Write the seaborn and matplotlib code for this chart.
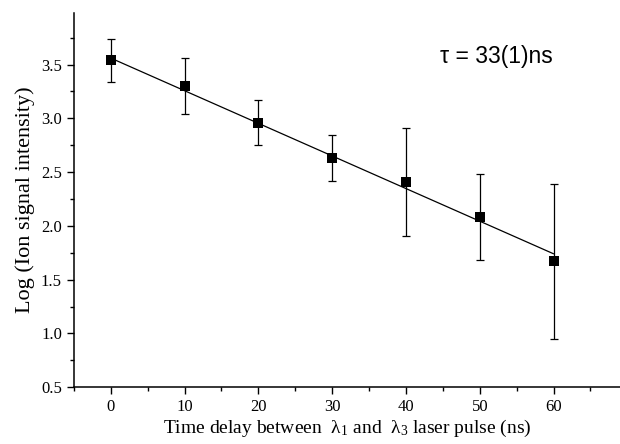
import matplotlib
matplotlib.use("Agg")
import matplotlib.pyplot as plt
import numpy             as np
import pandas            as pd
import seaborn           as sns
from matplotlib.ticker import MultipleLocator

# Data
delay   = [0, 10, 20, 30, 40, 50, 60]
log_sig = [3.54, 3.30, 2.96, 2.63, 2.41, 2.08, 1.67]
err     = [0.20, 0.26, 0.21, 0.21, 0.50, 0.40, 0.72]

fit_x   = [0, 60]
fit_y   = [3.56, 1.74]

df  = pd.DataFrame({'delay': delay, 'log_sig': log_sig, 'err': err})
fit = pd.DataFrame({'delay': fit_x, 'log_sig': fit_y})

sns.set_style('ticks', {'text.color': 'black', 'xtick.color': 'black', 'ytick.color': 'black',
                        'axes.edgecolor': 'black', 'axes.labelcolor': 'black'})
plt.rcParams['font.family'] = ['Liberation Serif', 'DejaVu Serif']
plt.rcParams['mathtext.fontset'] = 'custom'
plt.rcParams['mathtext.rm'] = 'Liberation Serif'

fig = plt.figure(figsize = (6.2, 4.44), dpi = 100)
ax  = fig.add_axes([0.119, 0.128, 0.881, 0.843])

sns.lineplot(data = fit, x = 'delay', y = 'log_sig', ax = ax, color = 'black', linewidth = 0.9)
ax.errorbar(df['delay'], df['log_sig'], yerr = df['err'], fmt = 'none',
            ecolor = 'black', elinewidth = 0.9, capsize = 3, capthick = 0.9)
sns.scatterplot(data = df, x = 'delay', y = 'log_sig', ax = ax, marker = 's',
                color = 'black', s = 55, edgecolor = 'black', linewidth = 0, zorder = 5)

ax.set_xlim(-5, 69)
ax.set_ylim(0.5, 3.98)
ax.xaxis.set_major_locator(MultipleLocator(10))
ax.xaxis.set_minor_locator(MultipleLocator(5))
ax.yaxis.set_major_locator(MultipleLocator(0.5))
ax.yaxis.set_minor_locator(MultipleLocator(0.25))
ax.tick_params(which = 'major', direction = 'out', length = 5, width = 1, labelsize = 12, colors = 'black')
ax.tick_params(which = 'minor', direction = 'out', length = 3, width = 1, colors = 'black')

for side in ['top', 'right']:
    ax.spines[side].set_visible(False)
for side in ['left', 'bottom']:
    ax.spines[side].set_linewidth(1.1)
    ax.spines[side].set_color('black')

ax.set_xlabel(r'Time delay between  $\mathregular{\lambda_1}$ and  $\mathregular{\lambda_3}$ laser pulse (ns)',
              fontsize = 14, labelpad = 2, color = 'black')
ax.set_ylabel('Log (Ion signal intensity)', fontsize = 16, labelpad = 4, color = 'black')

ax.text(0.670, 0.866, 'τ = 33(1)ns', transform = ax.transAxes, fontsize = 16.5,
        va = 'baseline', color = 'black', family = ['Liberation Sans', 'DejaVu Sans'])

plt.savefig('out.png', dpi = 100)
